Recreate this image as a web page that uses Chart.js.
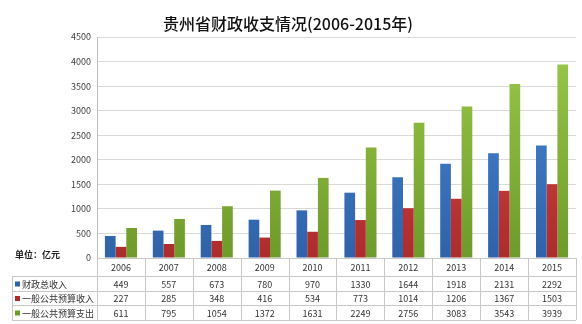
<!DOCTYPE html>
<html>
<head>
<meta charset="utf-8">
<script src="https://cdn.jsdelivr.net/npm/chart.js@4"></script>
<style>
  html, body { margin: 0; padding: 0; background: #fff; }
  #wrap { width: 582px; height: 324px; }
</style>
</head>
<body>
<div id="wrap"><canvas id="myChart" width="582" height="324"></canvas></div>
<script>
const years = ['2006', '2007', '2008', '2009', '2010', '2011', '2012', '2013', '2014', '2015'];
const totalIncome = [449, 557, 673, 780, 970, 1330, 1644, 1918, 2131, 2292];
const budgetIncome = [227, 285, 348, 416, 534, 773, 1014, 1206, 1367, 1503];
const budgetSpend = [611, 795, 1054, 1372, 1631, 2249, 2756, 3083, 3543, 3939];
const seriesNames = ['财政总收入', '一般公共预算收入', '一般公共预算支出'];
const titleText = '贵州省财政收支情况(2006-2015年)';
const unitText = '单位：亿元';

const fontCJK = '"Noto Sans CJK SC", "Noto Sans", sans-serif';
const colorsTop = ['#4a8ad6', '#e04a48', '#9cc94c'];
const colorsBottom = ['#2f62a8', '#ac2c2c', '#6f9a2c'];

function barGradient(i) {
    return function(ctx) {
        const area = ctx.chart.chartArea;
        if (!area) return colorsTop[i];
        const g = ctx.chart.ctx.createLinearGradient(0, area.top, 0, area.bottom);
        g.addColorStop(0, colorsTop[i]);
        g.addColorStop(1, colorsBottom[i]);
        return g;
    };
}

const allSeries = [totalIncome, budgetIncome, budgetSpend];

// tytul + tabela z danymi pod wykresem
const tablePlugin = {
    id: 'tablePlugin',
    afterDraw(chart) {
        const c = chart.ctx;
        const x = chart.scales.x;
        const area = chart.chartArea;
        c.save();

        c.fillStyle = '#111';
        c.font = '500 16px ' + fontCJK;
        c.textAlign = 'center';
        c.textBaseline = 'middle';
        c.fillText(titleText, 288, 24);

        c.font = 'bold 9px ' + fontCJK;
        c.textAlign = 'left';
        c.fillStyle = '#222';
        c.fillText(unitText, 15, 255);

        const rows = [area.bottom, 276, 291, 305, 320];
        const tLeft = 12;
        const right = area.right;
        const step = (x.getPixelForValue(1) - x.getPixelForValue(0));
        const bounds = [];
        for (let i = 0; i <= years.length; i++) {
            bounds.push(x.getPixelForValue(0) - step / 2 + i * step);
        }

        c.strokeStyle = '#c8c8c8';
        c.lineWidth = 1;
        c.beginPath();
        // poziome
        c.moveTo(area.left, rows[0] + 0.5); c.lineTo(right, rows[0] + 0.5);
        for (let r = 1; r < rows.length; r++) {
            c.moveTo(tLeft, rows[r] + 0.5); c.lineTo(right, rows[r] + 0.5);
        }
        // pionowe
        c.moveTo(tLeft + 0.5, rows[1]); c.lineTo(tLeft + 0.5, rows[4]);
        for (let i = 0; i < bounds.length; i++) {
            const bx = Math.round(bounds[i]) + 0.5;
            c.moveTo(bx, rows[0]); c.lineTo(bx, rows[4]);
        }
        c.stroke();

        c.font = '9px ' + fontCJK;
        c.fillStyle = '#333';
        c.textAlign = 'center';
        years.forEach((y, i) => {
            c.fillText(y, x.getPixelForValue(i), (rows[0] + rows[1]) / 2 + 1);
        });
        allSeries.forEach((s, r) => {
            const cy = (rows[r + 1] + rows[r + 2]) / 2 + 1;
            s.forEach((v, i) => {
                c.fillText(String(v), x.getPixelForValue(i), cy);
            });
            c.fillStyle = colorsBottom[r];
            c.fillRect(15, cy - 3, 5, 5);
            c.fillStyle = '#333';
            c.textAlign = 'left';
            c.fillText(seriesNames[r], 22, cy);
            c.textAlign = 'center';
        });
        c.restore();
    }
};

const data = {
    labels: years,
    datasets: allSeries.map((s, i) => ({
        label: seriesNames[i],
        data: s,
        backgroundColor: barGradient(i),
        borderWidth: 0,
        barPercentage: 1.0,
        categoryPercentage: 0.67
    }))
};

const config = {
    type: 'bar',
    data: data,
    options: {
        responsive: false,
        animation: false,
        layout: {
            padding: { left: 0, right: 6, top: 37, bottom: 66 }
        },
        scales: {
            x: {
                display: false
            },
            y: {
                min: 0,
                max: 4500,
                ticks: {
                    stepSize: 500,
                    color: '#404040',
                    font: { size: 9, family: fontCJK },
                    padding: 6,
                    callback: (v) => String(v)
                },
                grid: {
                    color: '#d9d9d9',
                    drawTicks: false
                },
                border: { color: '#bfbfbf' },
                afterFit(scale) { scale.width = 97; }
            }
        },
        plugins: {
            legend: { display: false },
            tooltip: { enabled: false }
        }
    },
    plugins: [tablePlugin]
};

const myChart = new Chart(
    document.getElementById('myChart'),
    config
);
</script>
</body>
</html>
